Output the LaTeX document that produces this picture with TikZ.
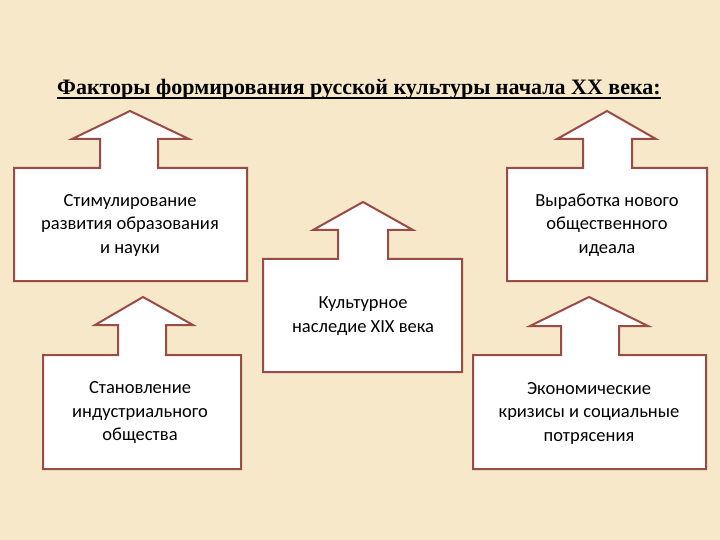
\documentclass[tikz,border=0pt]{standalone}
\usepackage{fontspec}
\setmainfont{Carlito}
\newfontfamily\titlefont{Liberation Serif}
\definecolor{bgc}{HTML}{F6E8C8}
\definecolor{edge}{HTML}{9C4A45}
\tikzset{
  arrowbox/.style={draw=edge, line width=2bp, fill=white, line join=miter},
  boxtext/.style={align=center, font=\fontsize{18.5bp}{23.5bp}\selectfont, text=black, inner sep=0pt},
}
\begin{document}
\begin{tikzpicture}[x=1bp,y=-1bp]
\useasboundingbox (0,0) rectangle (720,540);
\fill[bgc] (0,0) rectangle (720,540);
% title
\node[anchor=base, inner sep=0pt, font=\titlefont\bfseries\fontsize{22bp}{24bp}\selectfont] (title) at (359,95) {Факторы формирования русской культуры начала XX века:};
\draw[line width=1.5bp] ([yshift=-3bp]title.base west) -- ([yshift=-3bp]title.base east);
% shape 1 (top-left)
\draw[arrowbox] (14,168) -- (100,168) -- (100,139) -- (72,139) -- (130,111) -- (189,139) -- (158,139) -- (158,168) -- (247,168) -- (247,281) -- (14,281) -- cycle;
\node[boxtext] (t1) at (130,225) {Стимулирование\\развития образования\\и науки};
% shape 3 (top-right)
\draw[arrowbox] (507,168) -- (583,168) -- (583,139) -- (557,139) -- (607,111) -- (656,139) -- (632,139) -- (632,168) -- (707,168) -- (707,281) -- (507,281) -- cycle;
\node[boxtext] (t3) at (607,225) {Выработка нового\\общественного\\идеала};
% shape 2 (center)
\draw[arrowbox] (263,259) -- (338,259) -- (338,230) -- (313,230) -- (363,202) -- (413,230) -- (388,230) -- (388,259) -- (462,259) -- (462,372) -- (263,372) -- cycle;
\node[boxtext] (t2) at (363,316) {Культурное\\наследие XIX века};
% shape 5 (bottom-left)
\draw[arrowbox] (43,355) -- (118,355) -- (118,325) -- (95,325) -- (143,297) -- (193,325) -- (166,325) -- (166,355) -- (241,355) -- (241,469) -- (43,469) -- cycle;
\node[boxtext] (t5) at (140,413) {Становление\\индустриального\\общества};
% shape 4 (bottom-right)
\draw[arrowbox] (473,355) -- (561,355) -- (561,326) -- (530,326) -- (589,297) -- (648,326) -- (619,326) -- (619,355) -- (706,355) -- (706,469) -- (473,469) -- cycle;
\node[boxtext] (t4) at (589,413) {Экономические\\кризисы и социальные\\потрясения};
\end{tikzpicture}
\end{document}
